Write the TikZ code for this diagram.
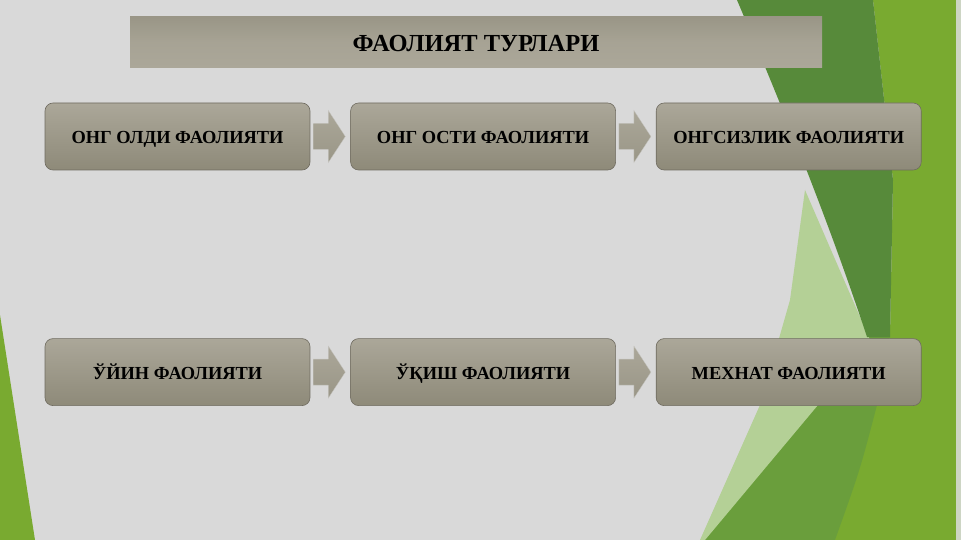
\documentclass[tikz,border=0pt]{standalone}
\usepackage{fontspec}
\setmainfont{Liberation Serif}
\usepackage{tikz}
\usetikzlibrary{calc, positioning}
\usepackage{xcolor}
\definecolor{SlideGray}{HTML}{D9D9D9}
\definecolor{BoxTop}{HTML}{ABA799}
\definecolor{BoxBottom}{HTML}{8E8A79}
\definecolor{BoxEdge}{HTML}{6F6B60}
\definecolor{LeafBright}{HTML}{79AA30}
\definecolor{LeafDark}{HTML}{578A3A}
\definecolor{LeafMid}{HTML}{6A9E3C}
\definecolor{LeafLite}{HTML}{B4D096}
\definecolor{EdgeStrip}{HTML}{CDD5C4}
\tikzset{%
  title_block/.style={%
    rectangle,%
    minimum width=692pt,%
    minimum height=51pt,%
    top color=BoxBottom!90,%
    bottom color=BoxTop,%
    middle color=BoxTop!85!BoxBottom,%
    text height=22pt,%
    text depth=2pt,%
    font={\fontsize{24.5}{28}\selectfont\bfseries},%
    align=center%
  },
  activity_block/.style={%
    rectangle,%
    rounded corners=8pt,%
    draw=BoxEdge,%
    line width=0.6pt,%
    top color=BoxTop,%
    bottom color=BoxBottom,%
    minimum width=265pt,%
    minimum height=67pt,%
    inner sep=0pt,%
    text height=15pt,%
    text depth=1pt,%
    font={\fontsize{18.4}{22}\selectfont\bfseries},%
    align=center%
  },
  flow_arrow/.style={%
    draw=BoxEdge!40,%
    line width=0.3pt,%
    top color=BoxTop,%
    bottom color=BoxBottom!90,%
    line join=miter%
  },
}
\newcommand{\flowarrow}[2]{%
  \path [flow_arrow] let \p1=(#1.east), \p2=(#2.west) in
    (\x1+3pt,\y1+13pt) -- (\x1+18pt,\y1+13pt) -- (\x1+18pt,\y1+26pt)
    -- (\x2-5pt,\y1)
    -- (\x1+18pt,\y1-26pt) -- (\x1+18pt,\y1-13pt) -- (\x1+3pt,\y1-13pt) -- cycle;%
}

\begin{document}
\begin{tikzpicture}[x=1pt, y=-1pt]

    % slide background
    \useasboundingbox (0,0) rectangle (961,540);
    \fill [SlideGray] (0,0) rectangle (961,540);
    \fill [LeafBright] (873,0) -- (956,0) -- (956,540) -- (703,540) -- (877,405)
      -- (890,337) -- (893,180) -- cycle;
    \fill [LeafMid] (867,337) -- (890,337) -- (877,405) .. controls (860,470) .. (835,540)
      -- (703,540) -- (817,405) -- cycle;
    \fill [LeafLite] (805,190) -- (870,340) -- (818,405) -- (705,540) -- (700,540)
      -- (760,405) -- (790,300) -- cycle;
    \fill [LeafDark] (737,0) .. controls (775,90) and (825,210) .. (867,337)
      -- (890,337) -- (893,180) -- (873,0) -- cycle;
    \fill [EdgeStrip] (956,0) rectangle (961,540);
    \fill [LeafBright] (0,315) -- (35,540) -- (0,540) -- cycle;

    \node [title_block] (Title) at (476,42) {ФАОЛИЯТ ТУРЛАРИ};

    \node [activity_block] (PreConscious) at (177.5,136.5) {ОНГ ОЛДИ ФАОЛИЯТИ};
    \node [activity_block, right = 40pt of PreConscious] (SubConscious) {ОНГ ОСТИ ФАОЛИЯТИ};
    \node [activity_block, right = 40pt of SubConscious] (Unconscious) {ОНГСИЗЛИК ФАОЛИЯТИ};

    \node [activity_block, below = 168pt of PreConscious] (Play) {ЎЙИН ФАОЛИЯТИ};
    \node [activity_block, right = 40pt of Play] (Study) {ЎҚИШ ФАОЛИЯТИ};
    \node [activity_block, right = 40pt of Study] (Labour) {МЕХНАТ ФАОЛИЯТИ};

    \flowarrow{PreConscious}{SubConscious}
    \flowarrow{SubConscious}{Unconscious}
    \flowarrow{Play}{Study}
    \flowarrow{Study}{Labour}

  \end{tikzpicture}
\end{document}
